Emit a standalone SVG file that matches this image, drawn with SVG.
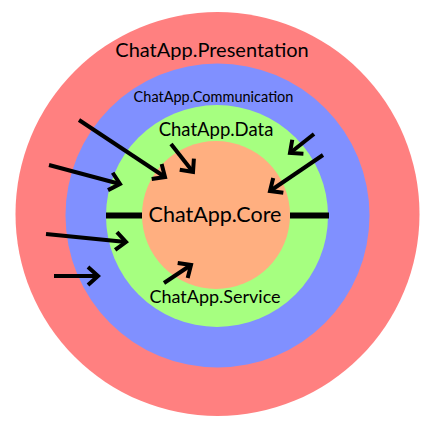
<svg xmlns="http://www.w3.org/2000/svg" width="433" height="433" viewBox="0 0 433 433">
<style>
text{font-family:Lato,"Open Sans","Liberation Sans",sans-serif;fill:#000;text-anchor:middle}
.ar{stroke:#000;stroke-width:4;fill:none;marker-end:url(#h)}
.bar{stroke:#000;stroke-width:6}
</style>
<defs>
<marker id="h" markerUnits="userSpaceOnUse" markerWidth="30" markerHeight="30" refX="0" refY="0" orient="auto" viewBox="-15 -15 30 30" overflow="visible">
<path d="M-10,-9 L0,0 L-10,9" fill="none" stroke="#000" stroke-width="4"/>
</marker>
</defs>
<rect width="433" height="433" fill="#fff"/>
<g id="presentation"><circle cx="217.5" cy="214" r="202" fill="#FF8080"/><text x="212" y="57" font-size="20">ChatApp.Presentation</text></g>
<g id="communication"><circle cx="217.5" cy="215.5" r="152" fill="#8090FF"/><text x="213.5" y="102" font-size="14.5">ChatApp.Communication</text></g>
<g id="data"><circle cx="217" cy="216" r="111" fill="#A6FF80"/><text x="216" y="136" font-size="18.5">ChatApp.Data</text></g>
<g id="service"><text x="215" y="303" font-size="18">ChatApp.Service</text></g>
<g id="core"><circle cx="216" cy="215" r="74" fill="#FFAF80"/><text x="215" y="222" font-size="21.5">ChatApp.Core</text></g>
<g id="connectors">
<line class="bar" x1="106" y1="215.5" x2="142" y2="215.5"/>
<line class="bar" x1="290" y1="215.5" x2="329" y2="215.5"/>
<line class="ar" x1="79" y1="120" x2="165" y2="177"/>
<line class="ar" x1="49" y1="165" x2="120" y2="184"/>
<line class="ar" x1="46" y1="234" x2="126" y2="242"/>
<line class="ar" x1="54" y1="276" x2="98" y2="276"/>
<line class="ar" x1="171" y1="144" x2="193" y2="172"/>
<line class="ar" x1="164" y1="283" x2="191" y2="265"/>
<line class="ar" x1="314" y1="134" x2="290" y2="153"/>
<line class="ar" x1="323" y1="155" x2="270" y2="191"/>
</g>
</svg>
